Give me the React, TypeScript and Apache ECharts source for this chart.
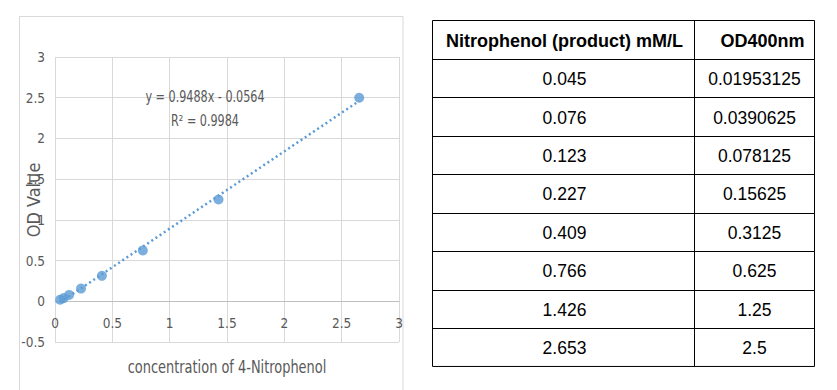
import React, { useEffect, useRef } from "react";
import * as echarts from "echarts";

const concentration = [0.045, 0.076, 0.123, 0.227, 0.409, 0.766, 1.426, 2.653];
const odValues = [0.01953125, 0.0390625, 0.078125, 0.15625, 0.3125, 0.625, 1.25, 2.5];
const tableHeaders = ["Nitrophenol (product) mM/L", "OD400nm"];
const slope = 0.9488;
const intercept = -0.0564;
const rSquared = 0.9984;
const xTitle = "concentration of 4-Nitrophenol";
const yTitle = "OD Value";

const NARROW = "'Liberation Sans Narrow', 'DejaVu Sans Condensed', sans-serif";
const ARIAL = "'Liberation Sans', Arial, sans-serif";
const BLUE = "#5b9bd5";
const GRAY_TEXT = "#595959";
const GRID = "#d9d9d9";

const Y_MIN = -0.5;
const Y_MAX = 3;

export default function App() {
  const ref = useRef<HTMLDivElement>(null);
  useEffect(() => {
    document.body.style.margin = "0";
    const chart = echarts.init(ref.current!, null, { renderer: "svg" });

    const scatterData = concentration.map((c, i) => [c, odValues[i]]);
    const xFirst = concentration[0];
    const xLast = concentration[concentration.length - 1];
    const trendData = [
      [xFirst, slope * xFirst + intercept],
      [xLast, slope * xLast + intercept],
    ];

    const gridTop = 57;
    const gridBottom = 48;
    const gridHeight = 390 - gridTop - gridBottom;
    // put the x axis (with its labels) on the y = 0 line
    const xAxisOffset = -((0 - Y_MIN) / (Y_MAX - Y_MIN)) * gridHeight;

    // table layout
    const tLeft = 432.5;
    const tMid = 694.5;
    const tRight = 814.5;
    const tTop = 20.5;
    const rowH = 38.44;
    const nRows = concentration.length + 1;
    const tableEls: any[] = [];
    tableEls.push({
      type: "rect",
      shape: { x: tLeft, y: tTop, width: tRight - tLeft, height: rowH * nRows },
      style: { fill: "#fff", stroke: "#000", lineWidth: 1 },
    });
    for (let r = 1; r < nRows; r++) {
      const y = Math.round(tTop + r * rowH) + 0.5;
      tableEls.push({
        type: "line",
        shape: { x1: tLeft, y1: y, x2: tRight, y2: y },
        style: { stroke: "#000", lineWidth: 1 },
      });
    }
    tableEls.push({
      type: "line",
      shape: { x1: tMid, y1: tTop, x2: tMid, y2: tTop + rowH * nRows },
      style: { stroke: "#000", lineWidth: 1 },
    });
    const c1 = (tLeft + tMid) / 2 + 1;
    const c2 = (tMid + tRight) / 2;
    const cell = (text: string, x: number, row: number, bold: boolean) => ({
      type: "text",
      x,
      y: tTop + row * rowH + rowH / 2 + 1,
      style: {
        text,
        fill: "#000",
        font: `${bold ? "bold 18px" : "17.5px"} ${ARIAL}`,
        align: "center",
        verticalAlign: "middle",
        textAlign: "center",
        textVerticalAlign: "middle",
      },
    });
    tableEls.push(cell(tableHeaders[0], c1, 0, true));
    tableEls.push(cell(tableHeaders[1], c2 + 8, 0, true));
    concentration.forEach((c, i) => {
      tableEls.push(cell(String(c), c1, i + 1, false));
      tableEls.push(cell(String(odValues[i]), c2, i + 1, false));
    });

    const eqText = `y = ${slope}x - ${Math.abs(intercept)}`;
    const r2Text = `R\u00B2 = ${rSquared}`;

    const grayText = (text: string, x: number, y: number, size: number, sx: number, rot = 0) => ({
      type: "text",
      x,
      y,
      z: 10,
      rotation: rot,
      scaleX: sx,
      style: {
        text,
        fill: GRAY_TEXT,
        font: `${size}px ${NARROW}`,
        align: "center",
        verticalAlign: "middle",
        textAlign: "center",
        textVerticalAlign: "middle",
      },
    });

    chart.setOption({
      animation: false,
      backgroundColor: "#fff",
      grid: {
        left: 55,
        right: 438,
        top: gridTop,
        bottom: gridBottom,
        outerBoundsMode: "none",
        containLabel: false,
      },
      xAxis: {
        type: "value",
        min: 0,
        max: 3,
        interval: 0.5,
        position: "bottom",
        offset: xAxisOffset,
        axisLine: { show: true, onZero: false, lineStyle: { color: "#bfbfbf", width: 1 } },
        axisTick: { show: false },
        axisLabel: {
          color: GRAY_TEXT,
          fontFamily: NARROW,
          fontSize: 13.5,
          margin: 15,
          showMinLabel: true,
          showMaxLabel: true,
        },
        splitLine: { show: true, lineStyle: { color: GRID, width: 1 } },
      },
      yAxis: {
        type: "value",
        min: Y_MIN,
        max: Y_MAX,
        interval: 0.5,
        axisLine: { show: false },
        axisTick: { show: false },
        axisLabel: { color: GRAY_TEXT, fontFamily: NARROW, fontSize: 13.5, margin: 10 },
        splitLine: { show: true, lineStyle: { color: GRID, width: 1 } },
      },
      graphic: [
        {
          type: "rect",
          z: -10,
          shape: { x: 19.5, y: 16.5, width: 383.5, height: 390 },
          style: { fill: "none", stroke: GRID, lineWidth: 1 },
        },
        grayText(eqText, 205, 97, 15, 0.83),
        grayText(r2Text, 205, 121, 15, 0.83),
        grayText(xTitle, 227, 367, 18, 0.8),
        grayText(yTitle, 33, 200, 18, 1, Math.PI / 2),
        { type: "group", children: tableEls },
      ],
      series: [
        {
          type: "line",
          data: trendData,
          showSymbol: false,
          symbol: "none",
          lineStyle: { color: BLUE, width: 2.5, type: [2, 3] },
          z: 2,
        },
        {
          type: "scatter",
          data: scatterData,
          symbol: "circle",
          symbolSize: 10,
          itemStyle: { color: BLUE },
          z: 3,
        },
      ],
    });
    return () => chart.dispose();
  }, []);
  return <div ref={ref} style={{ width: 837, height: 390, background: "#fff" }} />;
}
